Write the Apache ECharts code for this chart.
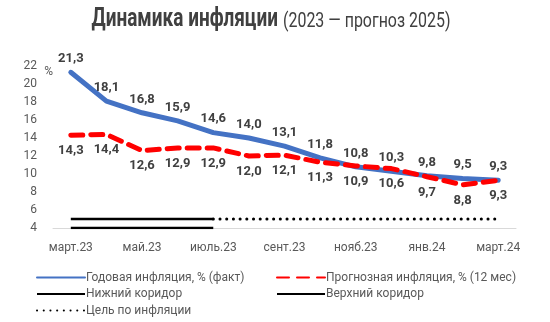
<!DOCTYPE html>
<html><head><meta charset="utf-8">
<script src="https://cdn.jsdelivr.net/npm/echarts@6/dist/echarts.min.js"></script>
<style>html,body{margin:0;padding:0;background:#fff}#c{width:550px;height:322px}</style>
</head><body><div id="c"></div>
<script>
var categories = ['март.23','апр.23','май.23','июнь.23','июль.23','авг.23','сент.23','окт.23','нояб.23','дек.23','янв.24','февр.24','март.24'];
var actualInflation = [21.3, 18.1, 16.8, 15.9, 14.6, 14.0, 13.1, 11.8, 10.8, 10.3, 9.8, 9.5, 9.3];
var forecastInflation = [14.3, 14.4, 12.6, 12.9, 12.9, 12.0, 12.1, 11.3, 10.9, 10.6, 9.7, 8.8, 9.3];
var lowerCorridor = [4, 4, 4, 4, 4, null, null, null, null, null, null, null, null];
var upperCorridor = [5, 5, 5, 5, 5, null, null, null, null, null, null, null, null];
var inflationTarget = [null, null, null, null, 5, 5, 5, 5, 5, 5, 5, 5, 5];
var seriesNames = ['Годовая инфляция, % (факт)', 'Прогнозная инфляция, % (12 мес)', 'Нижний коридор', 'Верхний коридор', 'Цель по инфляции'];
var titleMain = 'Динамика инфляции';
var titleSub = '(2023 — прогноз 2025)';

var FONT = 'Roboto, "Liberation Sans", sans-serif';
function fmt(p){ return p.value == null ? '' : Number(p.value).toFixed(1).replace('.', ','); }
var chart = echarts.init(document.getElementById('c'), null, {renderer: 'canvas'});
var legendCommon = {
  orient: 'vertical', itemWidth: 48, itemHeight: 10, itemGap: 1.5, padding: 0, height: 60,
  itemStyle: {opacity: 0},
  textStyle: {fontFamily: FONT, fontSize: 12, lineHeight: 15, color: '#595959', padding: [0,0,0,-4]}
};
chart.setOption({
  animation: false,
  textStyle: {fontFamily: FONT},
  graphic: [{
    type: 'text', x: 271, y: 20, scaleX: 0.76, z: 10,
    style: {
      text: '{b|' + titleMain + '}  {n|' + titleSub + '}',
      align: 'center', verticalAlign: 'middle',
      rich: {
        b: {fontFamily: FONT, fontSize: 25, fontWeight: 'bold', fill: '#404040', color: '#404040', verticalAlign: 'bottom'},
        n: {fontFamily: FONT, fontSize: 21, fill: '#404040', color: '#404040', verticalAlign: 'bottom'}
      }
    }
  }],
  grid: {left: 53, right: 34, top: 66, bottom: 94, containLabel: false},
  legend: [
    Object.assign({left: 36, top: 270, data: [seriesNames[0], seriesNames[2], seriesNames[4]]}, legendCommon),
    Object.assign({left: 276, top: 270, data: [seriesNames[1], seriesNames[3]]}, legendCommon)
  ],
  xAxis: {
    type: 'category', data: categories, boundaryGap: true,
    axisLine: {lineStyle: {color: '#d9d9d9', width: 1}},
    axisTick: {interval: 1, length: 4, lineStyle: {color: '#d9d9d9'}},
    axisLabel: {interval: 1, margin: 14, fontFamily: FONT, fontSize: 12, color: '#595959'}
  },
  yAxis: {
    type: 'value', min: 4, max: 22, interval: 2,
    name: '%', nameLocation: 'end', nameGap: -6, nameMoveOverlap: false,
    nameTextStyle: {fontFamily: FONT, fontSize: 12, color: '#595959', align: 'right', verticalAlign: 'middle'},
    axisLine: {show: false}, axisTick: {show: false}, splitLine: {show: false},
    axisLabel: {margin: 16, fontFamily: FONT, fontSize: 12, color: '#595959'}
  },
  series: [
    {name: seriesNames[0], type: 'line', data: actualInflation, symbol: 'circle', symbolSize: 0.1, showSymbol: true, z: 3,
     lineStyle: {color: '#4472C4', width: 5, cap: 'round', join: 'round'}, itemStyle: {color: '#4472C4'},
     label: {show: true, position: 'top', distance: 7, formatter: fmt, fontFamily: FONT, fontSize: 13, fontWeight: 'bold', color: '#404040'}},
    {name: seriesNames[1], type: 'line', data: forecastInflation, symbol: 'circle', symbolSize: 0.1, showSymbol: true, z: 4,
     lineStyle: {color: '#FF0000', width: 5, type: [12, 8], cap: 'round', join: 'round'}, itemStyle: {color: '#FF0000'},
     label: {show: true, position: 'bottom', distance: 9, formatter: fmt, fontFamily: FONT, fontSize: 13, fontWeight: 'bold', color: '#404040'}},
    {name: seriesNames[2], type: 'line', data: lowerCorridor, symbol: 'none', z: 5,
     lineStyle: {color: '#000000', width: 2.5}, itemStyle: {color: '#000000'}},
    {name: seriesNames[3], type: 'line', data: upperCorridor, symbol: 'none', z: 5,
     lineStyle: {color: '#000000', width: 2.5}, itemStyle: {color: '#000000'}},
    {name: seriesNames[4], type: 'line', data: inflationTarget, symbol: 'none', z: 5,
     lineStyle: {color: '#000000', width: 3, type: [0.1, 6.6], cap: 'round'}, itemStyle: {color: '#000000'}}
  ]
});
</script></body></html>
